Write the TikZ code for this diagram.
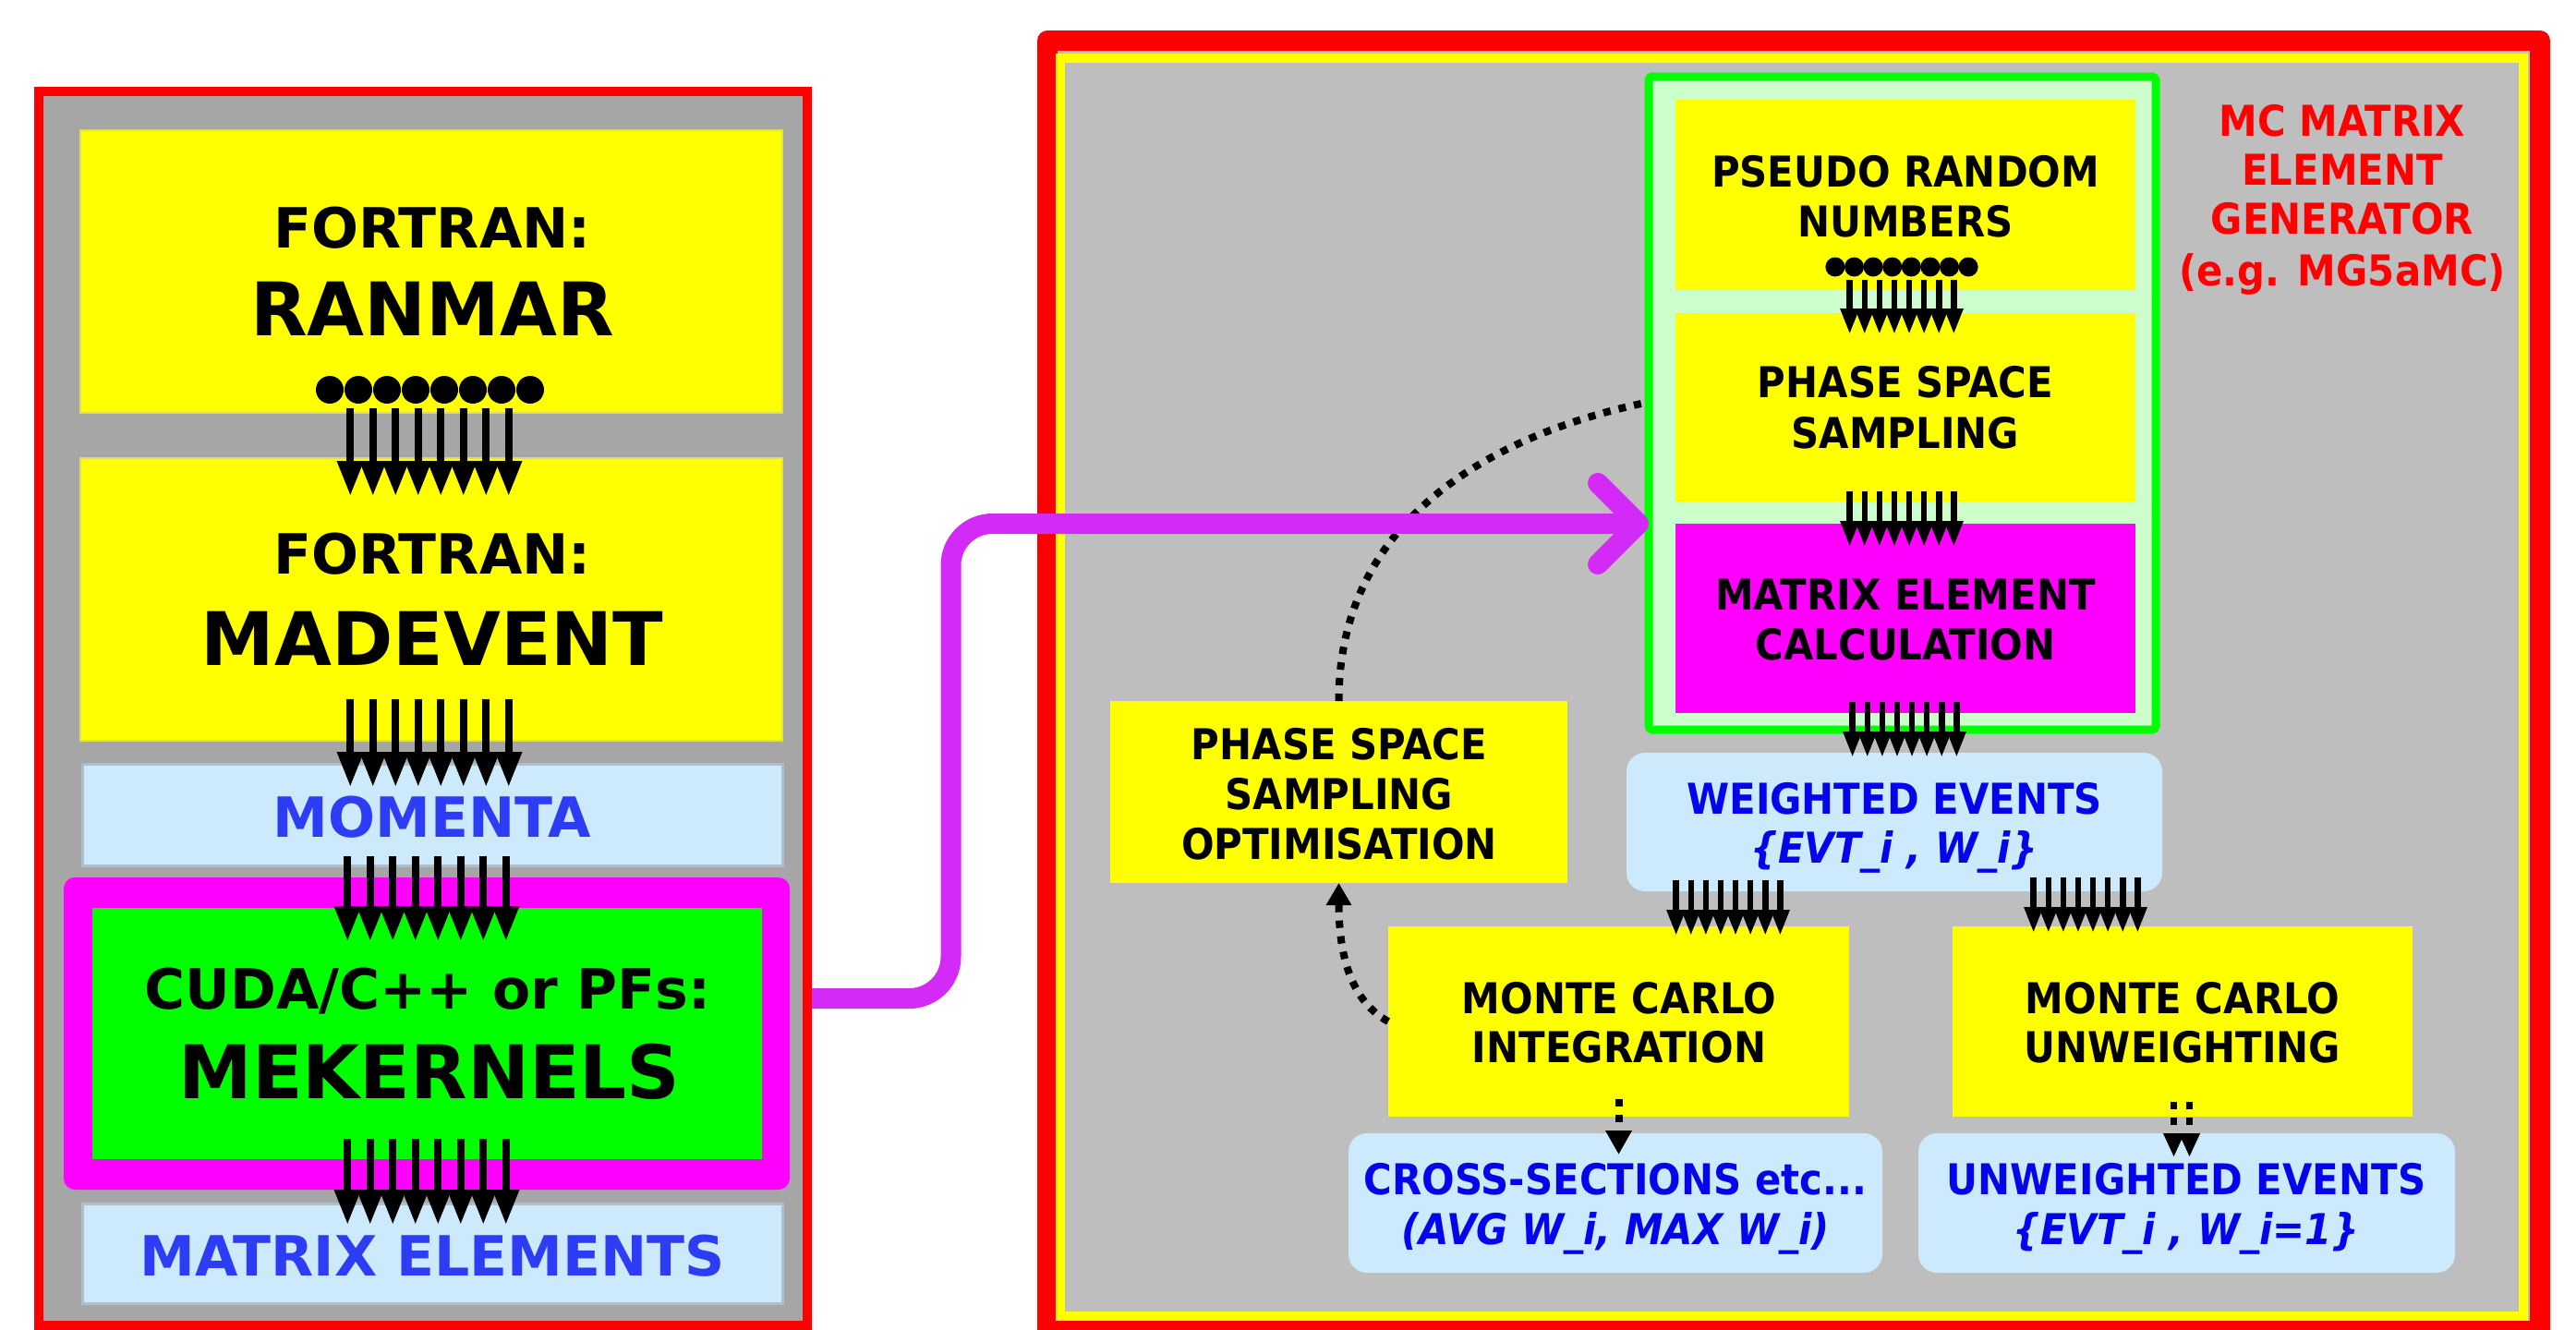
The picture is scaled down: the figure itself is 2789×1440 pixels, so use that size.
\documentclass[tikz,border=0pt]{standalone}
\usepackage{fontspec}
\usetikzlibrary{arrows.meta,calc}
\newfontfamily\lfont{DejaVu Sans}
\newfontfamily\rfont{DejaVu Sans}[FakeStretch=0.91]
\definecolor{yel}{RGB}{255,255,0}
\definecolor{yelline}{RGB}{222,222,90}
\definecolor{lgrey}{RGB}{166,166,166}
\definecolor{rgrey}{RGB}{190,190,190}
\definecolor{lblue}{RGB}{204,234,252}
\definecolor{lblueline}{RGB}{176,190,204}
\definecolor{ltxtblue}{RGB}{45,60,245}
\definecolor{rtxtblue}{RGB}{5,5,235}
\definecolor{mag}{RGB}{255,0,255}
\definecolor{grn}{RGB}{0,255,0}
\definecolor{lgreen}{RGB}{204,255,204}
\definecolor{conn}{RGB}{212,42,247}
\definecolor{rd}{RGB}{255,0,0}

\tikzset{
  every node/.style={inner sep=0pt, outer sep=0pt},
  lframe/.style={draw=rd, line width=10pt, fill=lgrey},
  rframe/.style={draw=rd, line width=22pt, fill=rgrey, line join=round},
  yframe/.style={draw=yel, line width=10pt},
  lybox/.style={fill=yel, draw=yelline, line width=2pt},
  lbbox/.style={fill=lblue, draw=lblueline, line width=3pt},
  magframe/.style={fill=mag, rounded corners=12pt},
  grnbox/.style={fill=grn},
  greenframe/.style={draw=grn, line width=9pt, fill=lgreen, rounded corners=4pt},
  rybox/.style={fill=yel},
  rmbox/.style={fill=mag},
  rbbox/.style={fill=lblue, rounded corners=20pt},
  ltxt/.style={anchor=base, font=\lfont\bfseries\fontsize{60}{72}\selectfont},
  lbig/.style={anchor=base, font=\lfont\bfseries\fontsize{80}{96}\selectfont},
  rtxt/.style={anchor=base, font=\rfont\bfseries\fontsize{46}{55}\selectfont},
  ritxt/.style={anchor=base, font=\rfont\bfseries\itshape\fontsize{46}{55}\selectfont},
  bigarrow/.style={draw=black, line width=8pt, -{Triangle[width=27pt,length=38pt]}},
  smallarrow/.style={draw=black, line width=6.5pt, -{Triangle[width=19pt,length=28pt]}},
  dotl/.style={draw=black, line width=8pt, dash pattern=on 8pt off 9pt},
  magline/.style={draw=conn, line width=22pt, rounded corners=45pt, -{Straight Barb[length=44pt,width=88pt,round]}},
}

% #1 style, #2 from node, #3 to node, #4 centre x, #5 spacing, #6 start above from.south, #7 tip below to.north
\newcommand\bundle[7]{%
  \foreach \k in {0,...,7}{%
    \pgfmathsetmacro\xx{#4+(\k-3.5)*#5}%
    \draw[#1] ($(\xx,0 |- #2.south)+(0,-#6)$) -- ($(\xx,0 |- #3.north)+(0,#7)$);
  }}
% #1 node, #2 centre x, #3 spacing, #4 above south, #5 radius
\newcommand\dotrow[5]{%
  \foreach \k in {0,...,7}{%
    \pgfmathsetmacro\xx{#2+(\k-3.5)*#3}%
    \fill[black] ($(\xx,0 |- #1.south)+(0,-#4)$) circle[radius=#5pt];
  }}

\begin{document}
\begin{tikzpicture}[x=1pt,y=-1pt]
\useasboundingbox (0,0) rectangle (2789,1440);

% ---------------- left panel ----------------
\node[lframe, minimum width=832pt, minimum height=1336pt] (lf) at (458,767) {};
\node[lybox, minimum width=760pt, minimum height=306pt] (ranmar) at (467,294) {};
\node[lybox, minimum width=760pt, minimum height=306pt] (madevent) at (467,649) {};
\node[lbbox, minimum width=758pt, minimum height=110pt] (momenta) at (468,882) {};
\node[magframe, minimum width=786pt, minimum height=338pt] (mekframe) at (462,1119) {};
\node[grnbox, minimum width=725pt, minimum height=272pt] (mek) at (462.5,1119) {};
\node[lbbox, minimum width=758pt, minimum height=108pt] (matel) at (468,1357) {};

\node[ltxt] (t1) at (468,268) {FORTRAN:};
\node[lbig] (t2) at (468,363) {RANMAR};
\node[ltxt] (t3) at (468,621) {FORTRAN:};
\node[lbig] (t4) at (468,720) {MADEVENT};
\node[ltxt, text=ltxtblue] (t5) at (468,906) {MOMENTA};
\node[ltxt] (t6) at (463,1092) {CUDA/C++ or PFs:};
\node[lbig] (t7) at (465,1189) {MEKERNELS};
\node[ltxt, text=ltxtblue] (t8) at (468,1381) {MATRIX ELEMENTS};

\dotrow{ranmar}{465.5}{31}{25}{15}
\bundle{bigarrow}{ranmar}{madevent}{465}{24.5}{5}{41}
\bundle{bigarrow}{madevent}{momenta}{465}{24.5}{45}{25}
\bundle{bigarrow}{momenta}{mek}{462}{24.5}{10}{36}
\bundle{bigarrow}{mek}{matel}{462}{24.5}{22}{23}

% ---------------- right panel ----------------
\node[rframe, minimum width=1616pt, minimum height=1397pt] (rf) at (1942,742.5) {};
\node[yframe, minimum width=1584pt, minimum height=1362pt] (yf) at (1940,744) {};
\node[greenframe, minimum width=549pt, minimum height=707pt] (gf) at (2059.5,436.5) {};
\node[rybox, minimum width=498pt, minimum height=206pt] (prn) at (2063,211) {};
\node[rybox, minimum width=498pt, minimum height=204pt] (pss) at (2063,441) {};
\node[rmbox, minimum width=498pt, minimum height=205pt] (mec) at (2063,669.5) {};
\node[rbbox, minimum width=580pt, minimum height=150pt] (wev) at (2051,890) {};
\node[rybox, minimum width=495pt, minimum height=197pt] (opt) at (1449.5,857.5) {};
\node[rybox, minimum width=499pt, minimum height=206pt] (mci) at (1752.5,1106) {};
\node[rybox, minimum width=498pt, minimum height=206pt] (mcu) at (2363,1106) {};
\node[rbbox, minimum width=578pt, minimum height=151pt] (xs) at (1749,1302.5) {};
\node[rbbox, minimum width=581pt, minimum height=151pt] (uwe) at (2367.5,1302.5) {};

\node[rtxt, text=rd] (r1) at (2536,147) {MC MATRIX};
\node[rtxt, text=rd] (r2) at (2536,200) {ELEMENT};
\node[rtxt, text=rd] (r3) at (2536,253) {GENERATOR};
\node[rtxt, text=rd] (r4) at (2536,309) {(e.g. MG5aMC)};

\node[rtxt] (r5) at (2063,202) {PSEUDO RANDOM};
\node[rtxt] (r6) at (2063,256) {NUMBERS};
\node[rtxt] (r7) at (2063,430) {PHASE SPACE};
\node[rtxt] (r8) at (2063,485) {SAMPLING};
\node[rtxt] (r9) at (2063,660) {MATRIX ELEMENT};
\node[rtxt] (r10) at (2063,714) {CALCULATION};
\node[rtxt, text=rtxtblue] (r11) at (2051,881) {WEIGHTED EVENTS};
\node[ritxt, text=rtxtblue] (r12) at (2051,934) {\{EVT\_i , W\_i\}};
\node[rtxt] (r13) at (1450,822) {PHASE SPACE};
\node[rtxt] (r14) at (1450,876) {SAMPLING};
\node[rtxt] (r15) at (1450,930) {OPTIMISATION};
\node[rtxt] (r16) at (1753,1097) {MONTE CARLO};
\node[rtxt] (r17) at (1753,1150) {INTEGRATION};
\node[rtxt] (r18) at (2363,1097) {MONTE CARLO};
\node[rtxt] (r19) at (2363,1150) {UNWEIGHTING};
\node[rtxt, text=rtxtblue] (r20) at (1749,1293) {CROSS-SECTIONS etc...};
\node[ritxt, text=rtxtblue] (r21) at (1749,1347) {(AVG W\_i, MAX W\_i)};
\node[rtxt, text=rtxtblue] (r22) at (2367,1293) {UNWEIGHTED EVENTS};
\node[ritxt, text=rtxtblue] (r23) at (2367,1347) {\{EVT\_i , W\_i=1\}};

\dotrow{prn}{2059}{20.6}{25}{10.5}
\bundle{smallarrow}{prn}{pss}{2059}{16.1}{11}{23}
\bundle{smallarrow}{pss}{mec}{2059}{16.1}{11}{25}
\bundle{smallarrow}{mec}{wev}{2062}{16.1}{12}{5}
\bundle{smallarrow}{wev}{mci}{1871}{16.1}{12}{10}
\bundle{smallarrow}{wev}{mcu}{2258}{16.1}{15}{7}

% dotted feedback loop
\draw[dotl] (opt.north) .. controls +(0,-199) and +(-158,34) .. ($(gf.west |- pss.west)+(-8,-4)$);
\draw[dotl, -{Triangle[width=26pt,length=24pt]}] (mci.west) .. controls +(-38,-21) and +(0,83) .. (opt.south);

% small dotted arrows
\draw[dotl, -{Triangle[width=27pt,length=26pt]}] ($(mci.south)+(0,-19)$) -- ($(mci.south |- xs.north)+(0,23)$);
\draw[dotl, line width=7pt, -{Triangle[width=21pt,length=26pt]}] ($(mcu.south)+(-9.5,-16)$) -- ($(mcu.south |- uwe.north)+(-9.5,26)$);
\draw[dotl, line width=7pt, -{Triangle[width=21pt,length=26pt]}] ($(mcu.south)+(7.5,-16)$) -- ($(mcu.south |- uwe.north)+(7.5,26)$);

% magenta connector from MEKERNELS to the matrix element calculation
\draw[magline] ($(lf.east |- mek.center)+(5,-38)$) -- ++(150.5,0) |- (gf.west |- mec.north);
\end{tikzpicture}
\end{document}
